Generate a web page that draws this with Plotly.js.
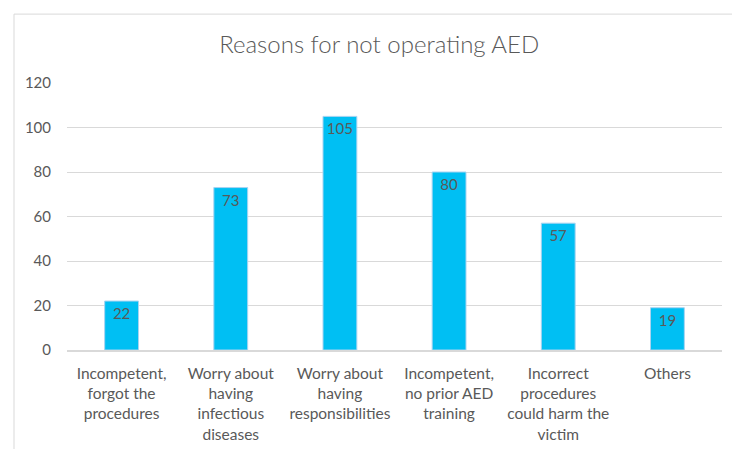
<!DOCTYPE html>
<html>
<head>
<meta charset="utf-8">
<script src="https://cdn.plot.ly/plotly-3.0.1.min.js"></script>
<style>html,body{margin:0;padding:0;background:#fff;}#chart{width:732px;height:449px;}</style>
</head>
<body>
<div id="chart"></div>
<script>
const categories = [
  "Incompetent,<br>forgot the<br>procedures",
  "Worry about<br>having<br>infectious<br>diseases",
  "Worry about<br>having<br>responsibilities",
  "Incompetent,<br>no prior AED<br>training",
  "Incorrect<br>procedures<br>could harm the<br>victim",
  "Others"
];
const counts = [22, 73, 105, 80, 57, 19];
const yTicks = [0, 20, 40, 60, 80, 100, 120];

const font = "Lato, 'Open Sans', sans-serif";
const grey = "#595959";

const trace = {
  type: "bar",
  x: categories,
  y: counts,
  text: counts.map(String),
  textposition: "inside",
  insidetextanchor: "end",
  textfont: {family: font, size: 15, color: grey},
  marker: {color: "#00BFF3", line: {color: "#A9D3F0", width: 1}},
  width: 0.31,
  hoverinfo: "none"
};

const layout = {
  width: 732, height: 449,
  margin: {l: 67, r: 10, t: 83, b: 99},
  paper_bgcolor: "#ffffff",
  plot_bgcolor: "#ffffff",
  font: {family: font, color: grey, size: 15},
  title: {
    text: "Reasons for not operating AED",
    font: {family: font, size: 24, color: grey, weight: 300},
    xref: "container", x: 0.518, xanchor: "center",
    yref: "container", y: 0.9, yanchor: "middle"
  },
  showlegend: false,
  xaxis: {
    type: "category",
    showgrid: false,
    showline: true, linecolor: "#D9D9D9", linewidth: 1.5,
    ticks: "outside", ticklen: 9, tickcolor: "rgba(0,0,0,0)",
    tickfont: {family: font, size: 15.5, color: grey},
    tickangle: 0,
    fixedrange: true
  },
  yaxis: {
    range: [0, 120],
    tickvals: yTicks,
    ticktext: yTicks.map(String),
    showgrid: true, gridcolor: "#D9D9D9", gridwidth: 1,
    zeroline: false,
    showline: false,
    ticks: "outside", ticklen: 12, tickcolor: "rgba(0,0,0,0)",
    tickfont: {family: font, size: 15, color: grey},
    fixedrange: true
  },
  shapes: [
    {type: "line", xref: "paper", yref: "paper", x0: -0.0809, x1: -0.0809, y0: -0.4, y1: 1.258,
     line: {color: "#D9D9D9", width: 1}},
    {type: "line", xref: "paper", yref: "paper", x0: -0.0809, x1: 1.1, y0: 1.258, y1: 1.258,
     line: {color: "#D9D9D9", width: 1}}
  ]
};

Plotly.newPlot("chart", [trace], layout, {displayModeBar: false, staticPlot: true});
</script>
</body>
</html>
